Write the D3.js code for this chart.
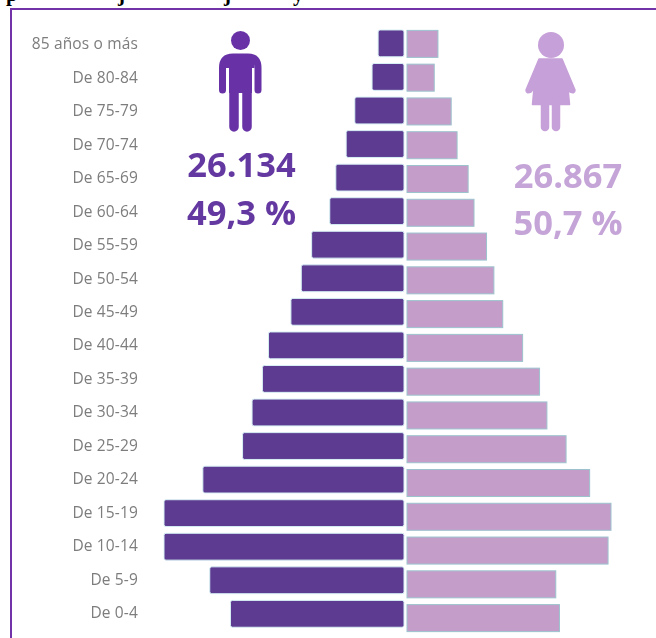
<!DOCTYPE html>
<html lang="es">
<head>
<meta charset="utf-8">
<title>Pirámide de población</title>
<script src="https://cdn.jsdelivr.net/npm/d3@7"></script>
<style>
    html, body { margin: 0; padding: 0; background: #fff; overflow: hidden; }
    #graph { width: 656px; height: 638px; }
    svg { display: block; }
    .tick text { font-family: "Open Sans", sans-serif; font-size: 15.5px; letter-spacing: 0.15px; fill: #7d7d7d; }
    .big { font-family: "Open Sans", sans-serif; font-weight: 700; font-size: 34.5px; }
    .title { font-family: "Liberation Serif", serif; font-weight: 700; font-size: 21px; fill: #000; }
</style>
</head>
<body>
<div id="graph"></div>
<script>
// Grupos de edad, de arriba abajo
const ageGroups = ["85 años o más", "De 80-84", "De 75-79", "De 70-74", "De 65-69", "De 60-64",
    "De 55-59", "De 50-54", "De 45-49", "De 40-44", "De 35-39", "De 30-34", "De 25-29",
    "De 20-24", "De 15-19", "De 10-14", "De 5-9", "De 0-4"];

// Valores estimados a partir de la imagen
const menValues = [300, 370, 570, 670, 790, 860, 1070, 1190, 1310, 1570, 1640, 1760, 1870, 2330, 2780, 2780, 2250, 2010];
const womenValues = [420, 370, 600, 680, 830, 910, 1080, 1180, 1300, 1570, 1800, 1900, 2160, 2480, 2770, 2730, 2020, 2070];

const menTotals = ["26.134", "49,3 %"];
const womenTotals = ["26.867", "50,7 %"];

// El título está cortado por arriba: solo se ven estos rasgos
const titleLetters = [["p", 6], ["j", 118], ["j", 224], ["y", 293]];

const menColor = "#5b3b90";
const womenColor = "#c49ec9";
const menIcon = "#6733a6";
const womenIcon = "#c6a0d8";
const borderColor = "#7333a8";

const svg = d3.select("#graph")
    .append("svg")
    .attr("width", 656)
    .attr("height", 638);

// Desenfoque suave, la imagen original está reescalada
const blur = svg.append("defs").append("filter")
    .attr("id", "soft")
    .attr("x", "-10%").attr("y", "-10%")
    .attr("width", "120%").attr("height", "120%");
blur.append("feGaussianBlur").attr("stdDeviation", 0.45);

// Título
svg.append("g")
    .selectAll("text")
    .data(titleLetters)
    .join("text")
    .attr("class", "title")
    .attr("x", d => d[1])
    .attr("y", 0.5)
    .text(d => d[0]);

// Marco
svg.append("path")
    .attr("d", "M11,638 V9 H656")
    .attr("fill", "none")
    .attr("stroke", borderColor)
    .attr("stroke-width", 2);

const chart = svg.append("g").attr("filter", "url(#soft)");

// Escalas: cada lado tiene la suya, en el original no coinciden
const xMen = d3.scaleLinear().domain([0, d3.max(menValues)]).range([0, 240]);
const xWomen = d3.scaleLinear().domain([0, d3.max(womenValues)]).range([0, 204]);
const yMen = d3.scaleBand().domain(ageGroups).range([26.6, 630.6]).paddingInner(0.2).paddingOuter(0.1);
const yWomen = d3.scaleBand().domain(ageGroups).range([27, 635]).paddingInner(0.2).paddingOuter(0.1);
const yLabels = d3.scaleBand().domain(ageGroups).range([27.5, 630]);

// Etiquetas de edad
chart.append("g")
    .attr("transform", "translate(138,0)")
    .call(d3.axisLeft(yLabels).tickSize(0).tickPadding(0))
    .call(g => g.select(".domain").remove());

// Hombres
chart.append("g")
    .selectAll("rect")
    .data(menValues)
    .join("rect")
    .attr("x", d => 404 - xMen(d))
    .attr("y", (d, i) => yMen(ageGroups[i]))
    .attr("width", d => xMen(d))
    .attr("height", yMen.bandwidth())
    .attr("rx", 2)
    .attr("fill", menColor)
    .attr("stroke", "#d8f0f5")
    .attr("stroke-width", 1);

// Mujeres
chart.append("g")
    .selectAll("rect")
    .data(womenValues)
    .join("rect")
    .attr("x", 407)
    .attr("y", (d, i) => yWomen(ageGroups[i]))
    .attr("width", d => xWomen(d))
    .attr("height", yWomen.bandwidth())
    .attr("fill", womenColor)
    .attr("stroke", "#9cc3ce")
    .attr("stroke-width", 1);

// Totales
chart.append("g")
    .selectAll("text")
    .data(menTotals)
    .join("text")
    .attr("class", "big")
    .attr("x", 241.5)
    .attr("y", (d, i) => 177 + i * 48)
    .attr("text-anchor", "middle")
    .attr("fill", "#6437a0")
    .text(d => d);

chart.append("g")
    .selectAll("text")
    .data(womenTotals)
    .join("text")
    .attr("class", "big")
    .attr("x", 568)
    .attr("y", (d, i) => 188 + i * 47)
    .attr("text-anchor", "middle")
    .attr("fill", "#c5a4d8")
    .text(d => d);

// Icono de hombre
const man = chart.append("g").attr("fill", menIcon).attr("stroke", menIcon);
man.append("circle").attr("cx", 240.5).attr("cy", 40.5).attr("r", 9.5).attr("stroke", "none");
man.append("path")
    .attr("d", "M222.5,90 V68 Q222.5,57 233,57 H248 Q258,57 258,68 V90")
    .attr("fill", "none")
    .attr("stroke-width", 7)
    .attr("stroke-linecap", "round");
man.append("path")
    .attr("d", "M226,68 L229,68 V93 H252 V68 H254.5 V57 H226 Z")
    .attr("stroke", "none");
man.append("path")
    .attr("d", "M234,90 V127 M247,90 V127")
    .attr("fill", "none")
    .attr("stroke-width", 9.5)
    .attr("stroke-linecap", "round");

// Icono de mujer
const woman = chart.append("g").attr("fill", womenIcon).attr("stroke", womenIcon);
woman.append("circle").attr("cx", 551).attr("cy", 45).attr("r", 13).attr("stroke", "none");
woman.append("path")
    .attr("d", "M539,59 H562 L575,90 Q575,94 570,92 L568,88 L569.5,104.5 H532.5 L534,88 L531,92 Q526,94 526,90 Z")
    .attr("stroke-width", 1.5)
    .attr("stroke-linejoin", "round");
woman.append("path")
    .attr("d", "M545,100 V127 M556,100 V127")
    .attr("fill", "none")
    .attr("stroke-width", 8.5)
    .attr("stroke-linecap", "round");
</script>
</body>
</html>
